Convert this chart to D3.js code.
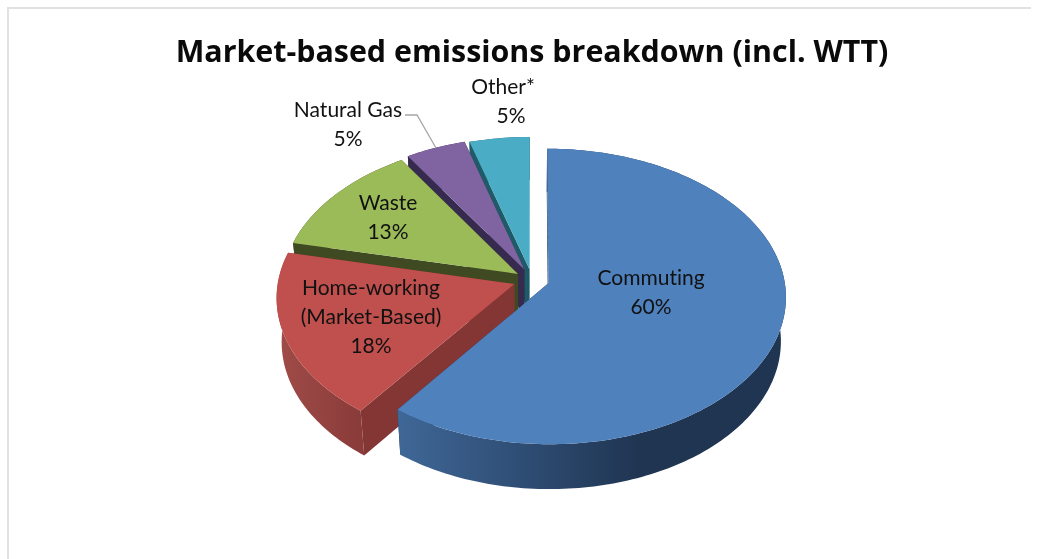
<!DOCTYPE html>
<html lang="en">
<head>
<meta charset="utf-8">
<title>Market-based emissions breakdown</title>
<script src="https://d3js.org/d3.v7.min.js"></script>
<style>
  html, body { margin: 0; padding: 0; background: #fff; }
  svg { display: block; filter: blur(0.6px); }
  text { font-variant-ligatures: none; }
</style>
</head>
<body>
<script>
// chart data
var names = ["Commuting", "Home-working\n(Market-Based)", "Waste", "Natural Gas", "Other*"];
var shares = [60.2, 18.3, 12.5, 4.5, 4.5];
var explode = [0.073, 0.08, 0.073, 0.08, 0.073];

var topColors = ["#4f81bd", "#c0504d", "#9bbb59", "#8064a2", "#4bacc6"];
var wallColors = ["#1f3552", "#843634", "#3f4a22", "#362a4e", "#1f5a68"];
var rimLight = ["#3f6797", "#a04c49", "#3f4a22", "#362a4e", "#1f5a68"];
var rimDark = ["#1f3552", "#7f3432", "#3f4a22", "#362a4e", "#1f5a68"];

// label centres, px
var labelAt = [[651, 292], [371, 317], [388, 217], [348, 124], [503, 101]];
var percentShift = [0, 0, 0, 0, 8];

var width = 1044, height = 559;

var svg = d3.select("body").append("svg")
    .attr("width", width)
    .attr("height", height);

var defs = svg.append("defs");

// chart frame, only top and left show
svg.append("path")
    .attr("d", "M8,559V8H1031")
    .attr("fill", "none")
    .attr("stroke", "#e2e2e2")
    .attr("stroke-width", 2);

svg.append("text")
    .attr("x", 532)
    .attr("y", 62)
    .attr("text-anchor", "middle")
    .style("font-family", "'Open Sans', sans-serif")
    .style("font-weight", 700)
    .style("font-size", "30.4px")
    .style("fill", "#0a0a0a")
    .text("Market-based emissions breakdown (incl. WTT)");

// perspective of the tilted disc: x right, y toward viewer, z down, unit radius
var cx = 532, cy = 280, rx = 236, ry = 146, depth = 45, k = 0.0885, m = 0.02;
function project(x, y, z) {
    var w = 1 - k * y + m * z;
    return [cx + rx * x / w, cy + (ry * y + depth * z) / w];
}

var line = d3.line();
var arcs = d3.pie().sort(null).value(function (d) { return d; })(shares);

function edge(a0, a1, ox, oy, z) {
    var n = Math.ceil(Math.abs(a1 - a0) / 0.02);
    return d3.range(n + 1).map(function (i) {
        var a = a0 + (a1 - a0) * i / n;
        return project(ox + Math.sin(a), oy - Math.cos(a), z);
    });
}

// back slices first so the front ones cover them
var order = [4, 3, 2, 1, 0];
order.forEach(function (i) {
    var d = arcs[i];
    var mid = (d.startAngle + d.endAngle) / 2;
    var ox = Math.sin(mid) * explode[i], oy = -Math.cos(mid) * explode[i];
    var g = svg.append("g");

    [d.startAngle, d.endAngle].forEach(function (a) {
        var rim0 = project(ox + Math.sin(a), oy - Math.cos(a), 0);
        var rim1 = project(ox + Math.sin(a), oy - Math.cos(a), 1);
        g.append("path")
            .attr("d", line([project(ox, oy, 0), rim0, rim1, project(ox, oy, 1)]) + "Z")
            .attr("fill", wallColors[i]);
    });

    var top = edge(d.startAngle, d.endAngle, ox, oy, 0);
    var bottom = edge(d.endAngle, d.startAngle, ox, oy, 1);
    var xs = d3.extent(top.concat(bottom), function (p) { return p[0]; });

    var grad = defs.append("linearGradient")
        .attr("id", "rim" + i)
        .attr("gradientUnits", "userSpaceOnUse")
        .attr("x1", i == 0 ? 398 : xs[0]).attr("x2", i == 0 ? 640 : 400)
        .attr("y1", 0).attr("y2", 0);
    grad.append("stop").attr("offset", 0).attr("stop-color", rimLight[i]);
    grad.append("stop").attr("offset", 1).attr("stop-color", rimDark[i]);

    g.append("path")
        .attr("d", line(top.concat(bottom)) + "Z")
        .attr("fill", "url(#rim" + i + ")");

    g.append("path")
        .attr("d", line([project(ox, oy, 0)].concat(top)) + "Z")
        .attr("fill", topColors[i]);
});

// leader for Natural Gas
svg.append("polyline")
    .attr("points", "405,115 417,115 436,148")
    .attr("fill", "none")
    .attr("stroke", "#a6a6a6")
    .attr("stroke-width", 1.3);

// labels
names.forEach(function (name, i) {
    var rows = name.split("\n").concat(Math.round(shares[i]) + "%");
    var t = svg.append("text")
        .attr("text-anchor", "middle")
        .style("font-family", "Lato, sans-serif")
        .style("font-size", "21px")
        .style("fill", "#111");
    rows.forEach(function (r, j) {
        t.append("tspan")
            .attr("x", labelAt[i][0] + (j == rows.length - 1 ? percentShift[i] : 0))
            .attr("y", labelAt[i][1] + (j - (rows.length - 1) / 2) * 29 + 7)
            .text(r);
    });
});
</script>
</body>
</html>
